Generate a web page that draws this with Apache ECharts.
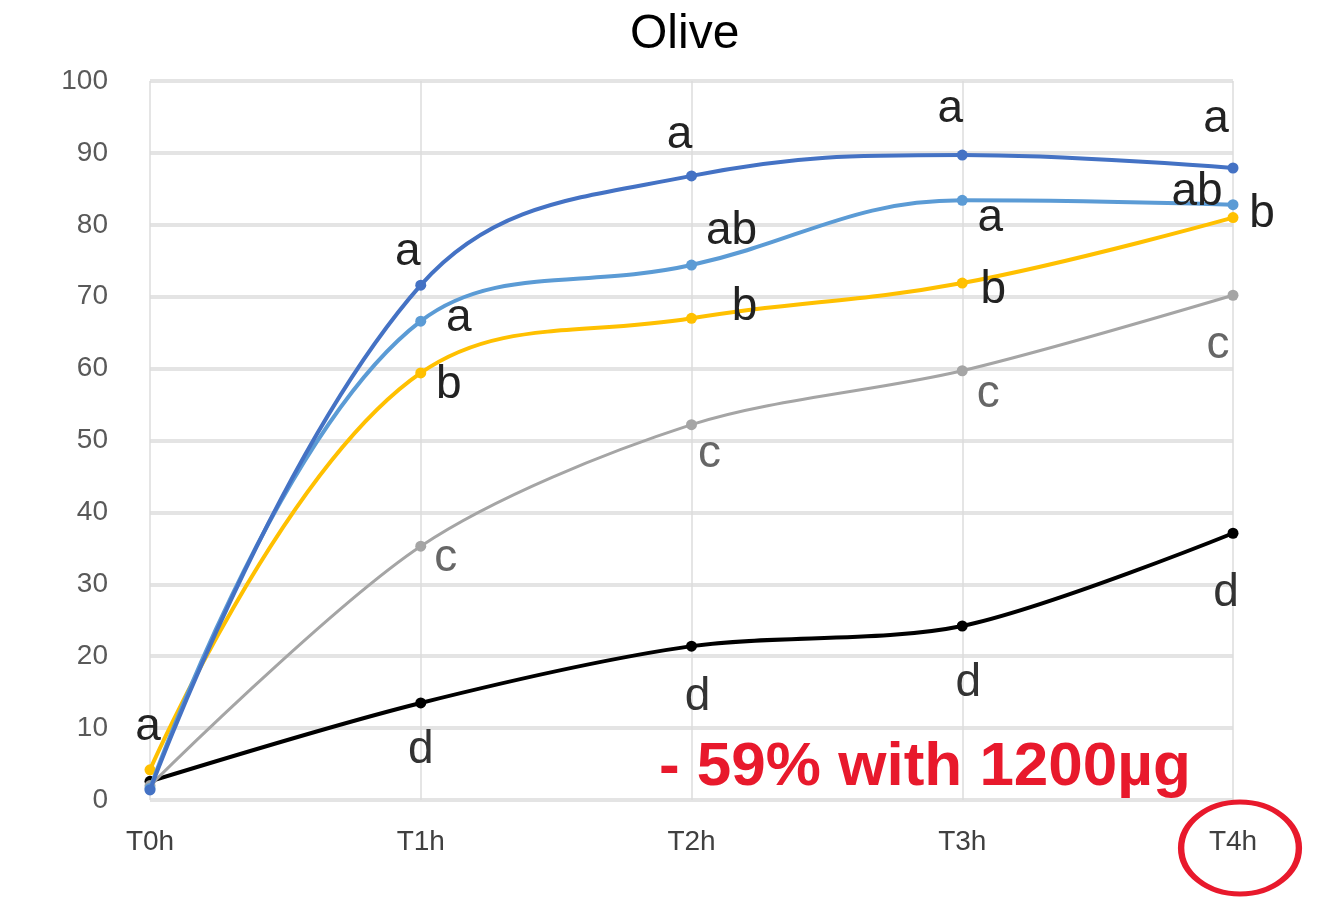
<!DOCTYPE html>
<html>
<head>
<meta charset="utf-8">
<script src="https://cdn.jsdelivr.net/npm/echarts@6/dist/echarts.min.js"></script>
<style>
html,body{margin:0;padding:0;background:#fff;}
#chart{width:1318px;height:909px;}
</style>
</head>
<body>
<div id="chart"></div>
<script>
// ---- data ----
const categories = ['T0h', 'T1h', 'T2h', 'T3h', 'T4h'];
const yTicks = [0, 10, 20, 30, 40, 50, 60, 70, 80, 90, 100];
const darkBlue  = [1.4, 71.6, 86.8, 89.7, 87.9];
const lightBlue = [1.6, 66.6, 74.4, 83.4, 82.8];
const yellow    = [4.2, 59.4, 67.0, 71.9, 81.0];
const gray      = [2.0, 35.3, 52.2, 59.7, 70.2];
const black     = [2.6, 13.5, 21.4, 24.2, 37.1];
const darkBlueLetters  = ['',  'a', 'a',  'a', 'a'];
const lightBlueLetters = ['',  'a', 'ab', 'a', 'ab'];
const yellowLetters    = ['a', 'b', 'b',  'b', 'b'];
const grayLetters      = ['',  'c', 'c',  'c', 'c'];
const blackLetters     = ['',  'd', 'd',  'd', 'd'];
const annotation = '- 59% with 1200µg';

// ---- layout (label offsets, px, relative to point) ----
const offsets = {
  darkBlue:  [[0,0], [-13,-33], [-12,-41], [-12,-46], [-17,-49]],
  lightBlue: [[0,0], [38,-3], [40,-34], [28,18], [-36,-12]],
  yellow:    [[-2,-42], [28,12], [53,-11], [31,7], [29,-3]],
  gray:      [[0,0], [25,12], [18,30], [26,24], [-15,50]],
  black:     [[0,0], [0,47], [6,51], [6,57], [-7,60]]
};

function build(values, letters, offs, color) {
  return values.map((v, i) => ({
    value: v,
    label: { show: letters[i] !== '', formatter: letters[i], offset: offs[i], color: color }
  }));
}

function lineSeries(name, values, letters, offs, color, width, smooth, labelColor, z) {
  return {
    name: name,
    type: 'line',
    data: build(values, letters, offs, labelColor),
    smooth: smooth,
    symbol: 'circle',
    symbolSize: 11,
    z: z,
    itemStyle: { color: color },
    lineStyle: { color: color, width: width },
    label: {
      position: 'inside',
      fontFamily: 'Liberation Sans',
      fontSize: 46,
      align: 'center',
      verticalAlign: 'middle'
    }
  };
}

const chart = echarts.init(document.getElementById('chart'), null, { renderer: 'canvas' });
chart.setOption({
  backgroundColor: '#ffffff',
  animation: false,
  title: {
    text: 'Olive',
    left: 625,
    top: 6,
    textStyle: { fontFamily: 'Liberation Sans', fontSize: 48, fontWeight: 'normal', color: '#000' }
  },
  grid: { left: 150, right: 85, top: 81, bottom: 109 },
  xAxis: {
    type: 'category',
    data: categories,
    boundaryGap: false,
    axisLine: { show: false },
    axisTick: { show: false },
    splitLine: { show: true, lineStyle: { color: '#dcdcdc', width: 1.5 } },
    axisLabel: { margin: 28, fontFamily: 'Liberation Sans', fontSize: 28, color: '#404040' }
  },
  yAxis: {
    type: 'value',
    min: yTicks[0],
    max: yTicks[yTicks.length - 1],
    interval: yTicks[1] - yTicks[0],
    axisLine: { show: false },
    axisTick: { show: false },
    splitLine: { lineStyle: { color: '#e4e4e4', width: 4 } },
    axisLabel: { margin: 42, fontFamily: 'Liberation Sans', fontSize: 28, color: '#595959' }
  },
  series: [
    lineSeries('black', black, blackLetters, offsets.black, '#000000', 4, 0.3, '#333333', 2),
    lineSeries('gray', gray, grayLetters, offsets.gray, '#a5a5a5', 3, 0.3, '#666666', 3),
    lineSeries('yellow', yellow, yellowLetters, offsets.yellow, '#ffc000', 4, 0.4, '#222222', 4),
    lineSeries('lightBlue', lightBlue, lightBlueLetters, offsets.lightBlue, '#5b9bd5', 4, 0.4, '#222222', 5),
    lineSeries('darkBlue', darkBlue, darkBlueLetters, offsets.darkBlue, '#4472c4', 4, 0.4, '#222222', 6)
  ],
  graphic: [
    {
      type: 'text',
      left: 659,
      top: 737,
      z: 20,
      style: {
        text: annotation,
        fontFamily: 'Liberation Sans',
        fontWeight: 'bold',
        fontSize: 62,
        fill: '#e8192c'
      }
    },
    {
      type: 'circle',
      x: 1240,
      y: 848,
      scaleX: 1.28,
      z: 20,
      shape: { cx: 0, cy: 0, r: 46 },
      style: { fill: 'none', stroke: '#e8192c', lineWidth: 5, strokeNoScale: true }
    }
  ]
});
</script>
</body>
</html>
